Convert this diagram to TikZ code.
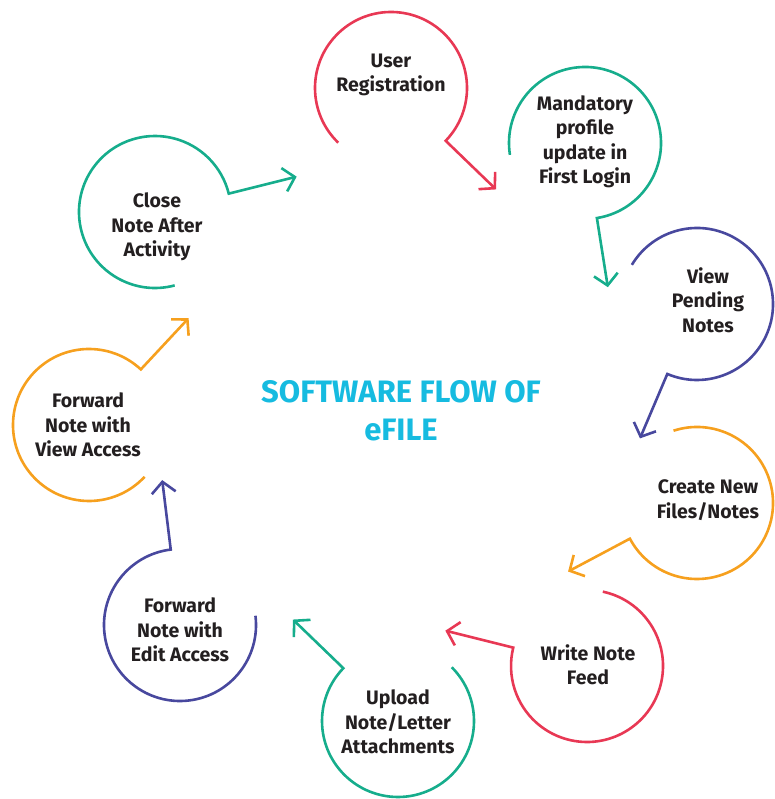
\documentclass[tikz,border=0pt]{standalone}
\usepackage{fontspec}
\setmainfont{Fira Sans}
\usetikzlibrary{arrows.meta,calc}

\definecolor{flowred}{RGB}{232,56,84}
\definecolor{flowgreen}{RGB}{22,173,140}
\definecolor{flowpurple}{RGB}{72,72,158}
\definecolor{floworange}{RGB}{246,160,30}
\definecolor{flowcyan}{RGB}{22,187,224}
\definecolor{ink}{RGB}{35,31,32}

\begin{document}
\begin{tikzpicture}[x=1pt,y=1pt,line width=2.6pt,line join=miter,
                    ring/.style={circle,minimum size=152pt,inner sep=0pt,outer sep=0pt},
                    lbl/.style={font=\bfseries\fontsize{19.5}{24.5}\selectfont,text=ink,align=center},
                    tail/.style={-{Straight Barb[length=11pt,width=24pt]}}]

  \useasboundingbox (0,0) rectangle (774,799);

  % circles
  \node[ring] (U) at (391,711) {};
  \node[ring] (M) at (585,656) {};
  \node[ring] (V) at (697,495) {};
  \node[ring] (C) at (697,296) {};
  \node[ring] (W) at (587,133) {};
  \node[ring] (L) at (398,78)  {};
  \node[ring] (E) at (180,174) {};
  \node[ring] (F) at (89,374)  {};
  \node[ring] (N) at (155,587) {};

  % texts
  \node[lbl] (tU) at (391,724) {User\\Registration};
  \node[lbl] (tM) at (585,657) {Mandatory\\profile\\update in\\First Login};
  \node[lbl] (tV) at (708,499) {View\\Pending\\Notes};
  \node[lbl] (tC) at (708,299) {Create New\\Files/Notes};
  \node[lbl] (tW) at (588,134) {Write Note\\Feed};
  \node[lbl] (tL) at (398,77)  {Upload\\Note/Letter\\Attachments};
  \node[lbl] (tE) at (180,169) {Forward\\Note with\\Edit Access};
  \node[lbl] (tF) at (88,374)  {Forward\\Note with\\View Access};
  \node[lbl] (tN) at (157,572) {Close\\Note After\\Activity};

  \node[font=\bfseries\fontsize{31}{38}\selectfont,text=flowcyan,align=center] (title)
       at (401,388) {SOFTWARE FLOW OF\\eFILE};

  % arrow ends
  \coordinate (aU) at ($(U)+(-44:146)$);
  \coordinate (aM) at ($(M)+(-81:146)$);
  \coordinate (aV) at ($(V)+(-113:146)$);
  \coordinate (aC) at ($(C)+(208:146)$);
  \coordinate (aW) at ($(W)+(166:146)$);
  \coordinate (aL) at ($(L)+(136:146)$);
  \coordinate (aE) at ($(E)+(97:146)$);
  \coordinate (aF) at ($(F)+(47:146)$);
  \coordinate (aN) at ($(N)+(14:146)$);

  \draw[flowred,tail]    (U.-134) arc[start angle=-134,delta angle=-270,radius=76] -- (aU);
  \draw[flowgreen,tail]  (M.-171) arc[start angle=-171,delta angle=-270,radius=76] -- (aM);
  \draw[flowpurple,tail] (V.149)  arc[start angle=149,delta angle=-262,radius=76]  -- (aV);
  \draw[floworange,tail] (C.108)  arc[start angle=108,delta angle=-260,radius=76]  -- (aC);
  \draw[flowred,tail]    (W.78)   arc[start angle=78,delta angle=-272,radius=76]   -- (aW);
  \draw[flowgreen,tail]  (L.45)   arc[start angle=45,delta angle=-269,radius=76]   -- (aL);
  \draw[flowpurple,tail] (E.7)    arc[start angle=7,delta angle=-270,radius=76]    -- (aE);
  \draw[floworange,tail] (F.-43)  arc[start angle=-43,delta angle=-270,radius=76]  -- (aF);
  \draw[flowgreen,tail]  (N.-75)  arc[start angle=-75,delta angle=-271,radius=76]  -- (aN);
\end{tikzpicture}
\end{document}
